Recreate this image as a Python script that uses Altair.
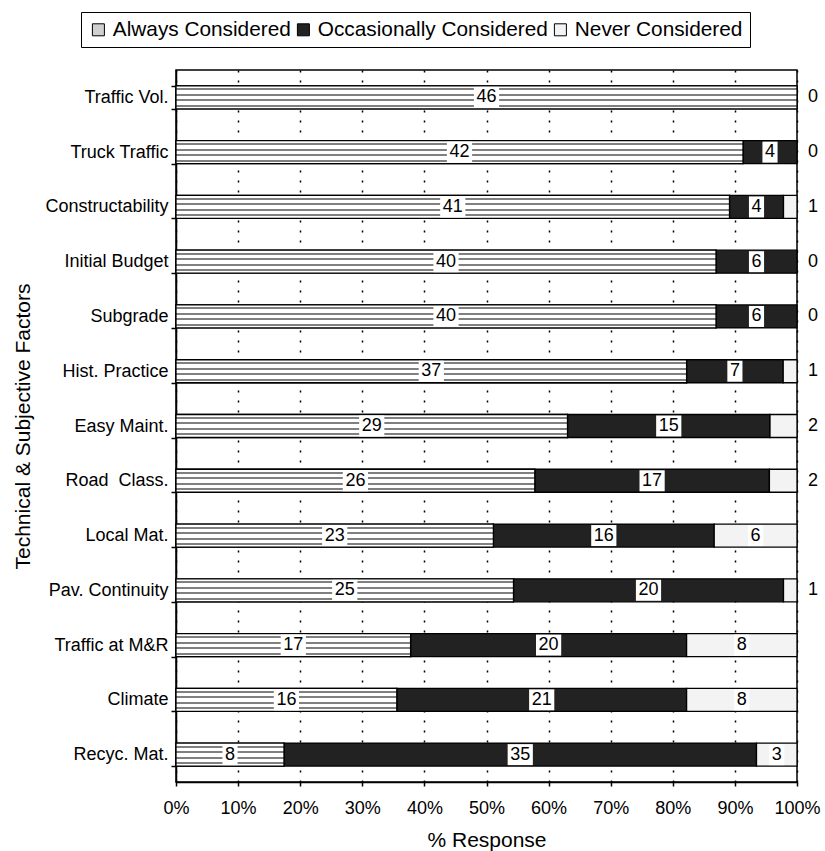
import altair as alt
import pandas as pd

# Survey responses per factor (number of agencies)
factors = [
    "Traffic Vol.", "Truck Traffic", "Constructability", "Initial Budget",
    "Subgrade", "Hist. Practice", "Easy Maint.", "Road\u00a0 Class.", "Local Mat.",
    "Pav. Continuity", "Traffic at M&R", "Climate", "Recyc. Mat.",
]
always = [46, 42, 41, 40, 40, 37, 29, 26, 23, 25, 17, 16, 8]
occasionally = [0, 4, 4, 6, 6, 7, 15, 17, 16, 20, 20, 21, 35]
never = [0, 0, 1, 0, 0, 1, 2, 2, 6, 1, 8, 8, 3]

levels = ["Always Considered", "Occasionally Considered", "Never Considered"]
level_colors = ["#d0d0d0", "#222222", "#f3f3f3"]
x_ticks = [i / 10 for i in range(11)]

rows = []
for f, a, o, n in zip(factors, always, occasionally, never):
    for idx, (lvl, cnt) in enumerate(zip(levels, (a, o, n))):
        rows.append({"factor": f, "level": lvl, "idx": idx, "count": cnt})
df = pd.DataFrame(rows)

FONT = "Liberation Sans"
BAR_H = 23


def hatch_rows(centers, half, ink, paper):
    """Vertical gradient that paints thin horizontal rows across a bar."""
    stops = [alt.GradientStop(offset=0, color=paper)]
    for c in centers:
        lo, hi = (c - half) / BAR_H, (c + half) / BAR_H
        stops += [
            alt.GradientStop(offset=lo, color=paper),
            alt.GradientStop(offset=lo, color=ink),
            alt.GradientStop(offset=hi, color=ink),
            alt.GradientStop(offset=hi, color=paper),
        ]
    stops.append(alt.GradientStop(offset=1, color=paper))
    return alt.LinearGradient(gradient="linear", x1=0, y1=0, x2=0, y2=1, stops=stops)


always_fill = hatch_rows([3.5, 9.0, 14.5, 20.0], 1.0, "#808080", "#ffffff")

base = (
    alt.Chart(df)
    .transform_stack(
        stack="count",
        groupby=["factor"],
        as_=["s0", "s1"],
        offset="normalize",
        sort=[alt.SortField("idx", order="ascending")],
    )
    .transform_calculate(mid="(datum.s0 + datum.s1) / 2")
)

y_enc = alt.Y(
    "factor:N",
    sort=factors,
    scale=alt.Scale(paddingInner=0.58, paddingOuter=0.29),
    axis=alt.Axis(
        title="Technical & Subjective Factors",
        tickBand="extent",
        tickSize=5,
        labelPadding=3,
        labelFontSize=18,
        titleFontSize=21,
        titlePadding=11,
    ),
)

x_enc = alt.X(
    "s0:Q",
    scale=alt.Scale(domain=[0, 1], nice=False),
    axis=alt.Axis(
        title="% Response",
        format=".0%",
        values=x_ticks,
        labelOverlap=False,
        labelFlush=False,
        grid=True,
        gridDash=[2, 8],
        gridColor="black",
        gridWidth=1.5,
        gridOpacity=1,
        tickSize=4,
        labelPadding=13,
        labelFontSize=18,
        titleFontSize=21,
        titlePadding=12,
    ),
)

bars = base.transform_filter("datum.count > 0").mark_bar(
    height=BAR_H, stroke="black", strokeWidth=1.3
).encode(
    y=y_enc,
    x=x_enc,
    x2="s1:Q",
    color=alt.Color(
        "level:N",
        scale=alt.Scale(domain=levels, range=level_colors),
        legend=alt.Legend(
            title=None,
            orient="none",
            legendX=-95,
            legendY=-58,
            direction="horizontal",
            columns=3,
            columnPadding=2,
            symbolType="square",
            symbolSize=144,
            symbolStrokeColor="black",
            symbolStrokeWidth=1,
            symbolOpacity=1,
            labelFontSize=20.8,
            labelOffset=4,
            labelLimit=400,
            strokeColor="black",
            fillColor="white",
            padding=7,
        ),
    ),
)

# textured fill for the "always" segments
always_tex = (
    base.transform_filter("datum.idx == 0 && datum.count > 0")
    .mark_bar(height=BAR_H, stroke="black", strokeWidth=1.3, fill=always_fill)
    .encode(y=alt.Y("factor:N", sort=factors), x="s0:Q", x2="s1:Q")
)

inside = base.transform_filter(
    "datum.count > 0 && (datum.idx < 2 || datum.count >= 3)"
)

wide_box = "M-1.2,-1 L1.2,-1 L1.2,1 L-1.2,1 Z"
narrow_box = "M-0.72,-1 L0.72,-1 L0.72,1 L-0.72,1 Z"

boxes = inside.mark_point(filled=True, fill="white", opacity=1, strokeWidth=0).encode(
    y=alt.Y("factor:N", sort=factors),
    x=alt.X("mid:Q"),
    shape=alt.condition("datum.count >= 10", alt.value(wide_box), alt.value(narrow_box)),
    size=alt.value(441),
)

labels = inside.mark_text(fontSize=18, font=FONT, color="black", baseline="middle").encode(
    y=alt.Y("factor:N", sort=factors),
    x=alt.X("mid:Q"),
    text=alt.Text("count:Q"),
)

outside = (
    base.transform_filter("datum.idx == 2 && datum.count < 3")
    .mark_text(fontSize=18, font=FONT, color="black", align="left", baseline="middle", dx=11)
    .encode(
        y=alt.Y("factor:N", sort=factors),
        x=alt.datum(1),
        text=alt.Text("count:Q"),
    )
)

chart = (
    alt.layer(bars, always_tex, boxes, labels, outside)
    .properties(
        width=621,
        height=712,
        autosize=alt.AutoSizeParams(type="none"),
        padding={"left": 176, "top": 70, "right": 28, "bottom": 69},
        background="white",
    )
    .configure_view(stroke="black", strokeWidth=1.5)
    .configure_axis(
        labelFont=FONT,
        titleFont=FONT,
        labelColor="black",
        titleColor="black",
        titleFontWeight="normal",
        domainColor="black",
        domainWidth=1.5,
        tickColor="black",
        tickWidth=1.5,
    )
    .configure_legend(labelFont=FONT, labelColor="black")
)

chart.save("out.html", embed_options={"renderer": "svg", "actions": False})
